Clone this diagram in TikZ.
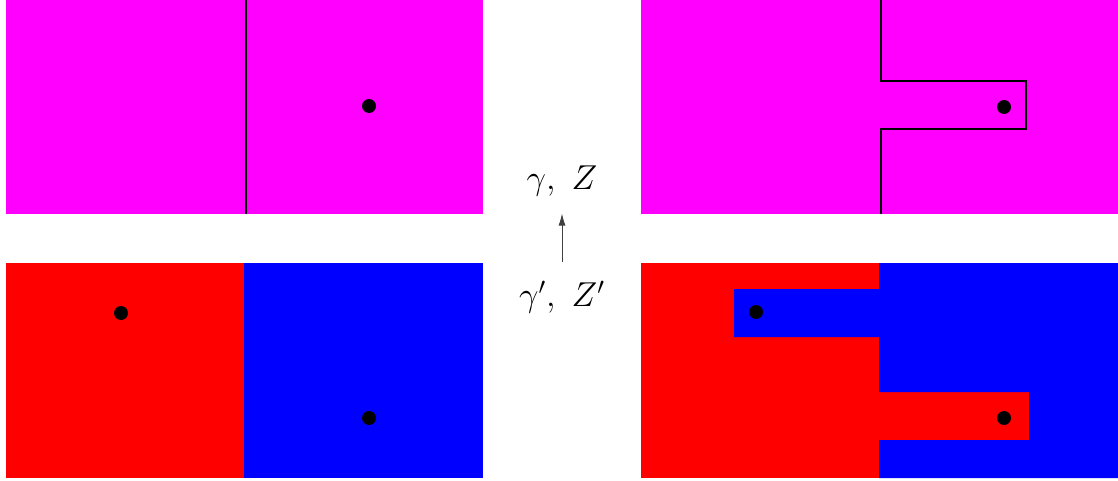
\documentclass[tikz,border=0pt]{standalone}
\usepackage{tikz}
\usetikzlibrary{arrows.meta}

\begin{document}
\begin{tikzpicture}[x=0.5pt, y=-0.5pt]
  % Styles
  \tikzset{
    dot/.style={fill=black},
    cut/.style={draw=black, line width=0.6pt},
    lbl/.style={font=\LARGE, inner sep=2pt},
    fleche/.style={-{Latex[length=6pt, width=3.5pt]}, thin, black!75},
  }
  \definecolor{magenta}{RGB}{255,0,255}

  \useasboundingbox (0,0) rectangle (1118,481);

  % En haut a gauche
  \fill[magenta] (6,0) rectangle (483,214);
  \draw[cut] (246,0) -- (246,214);
  \fill[dot] (369,106) circle (3.5pt);

  % En bas a gauche
  \fill[red] (6,263) rectangle (244,478);
  \fill[blue] (244,263) rectangle (483,478);
  \fill[dot] (121,313) circle (3.5pt);
  \fill[dot] (369,418) circle (3.5pt);

  % En haut a droite
  \fill[magenta] (641,0) rectangle (1118,214);
  \draw[cut] (881,0) -- (881,81) -- (1026,81) -- (1026,129)
    -- (881,129) -- (881,214);
  \fill[dot] (1004,107) circle (3.5pt);

  % En bas a droite
  \fill[red] (641,263) rectangle (1118,478);
  \fill[blue] (879,263) -- (1118,263) -- (1118,478) -- (879,478)
    -- (879,440) -- (1029,440) -- (1029,392) -- (879,392)
    -- (879,337) -- (734,337) -- (734,289) -- (879,289) -- cycle;
  \fill[dot] (756,312) circle (3.5pt);
  \fill[dot] (1004,418) circle (3.5pt);

  % Etiquettes
  \node[lbl] (haut) at (562,181) {$\gamma,\ Z$};
  \node[lbl] (bas) at (562,297) {$\gamma',\ Z'$};
  \draw[fleche, shorten <=7pt, shorten >=6.5pt] (bas) -- (haut);

\end{tikzpicture}
\end{document}
